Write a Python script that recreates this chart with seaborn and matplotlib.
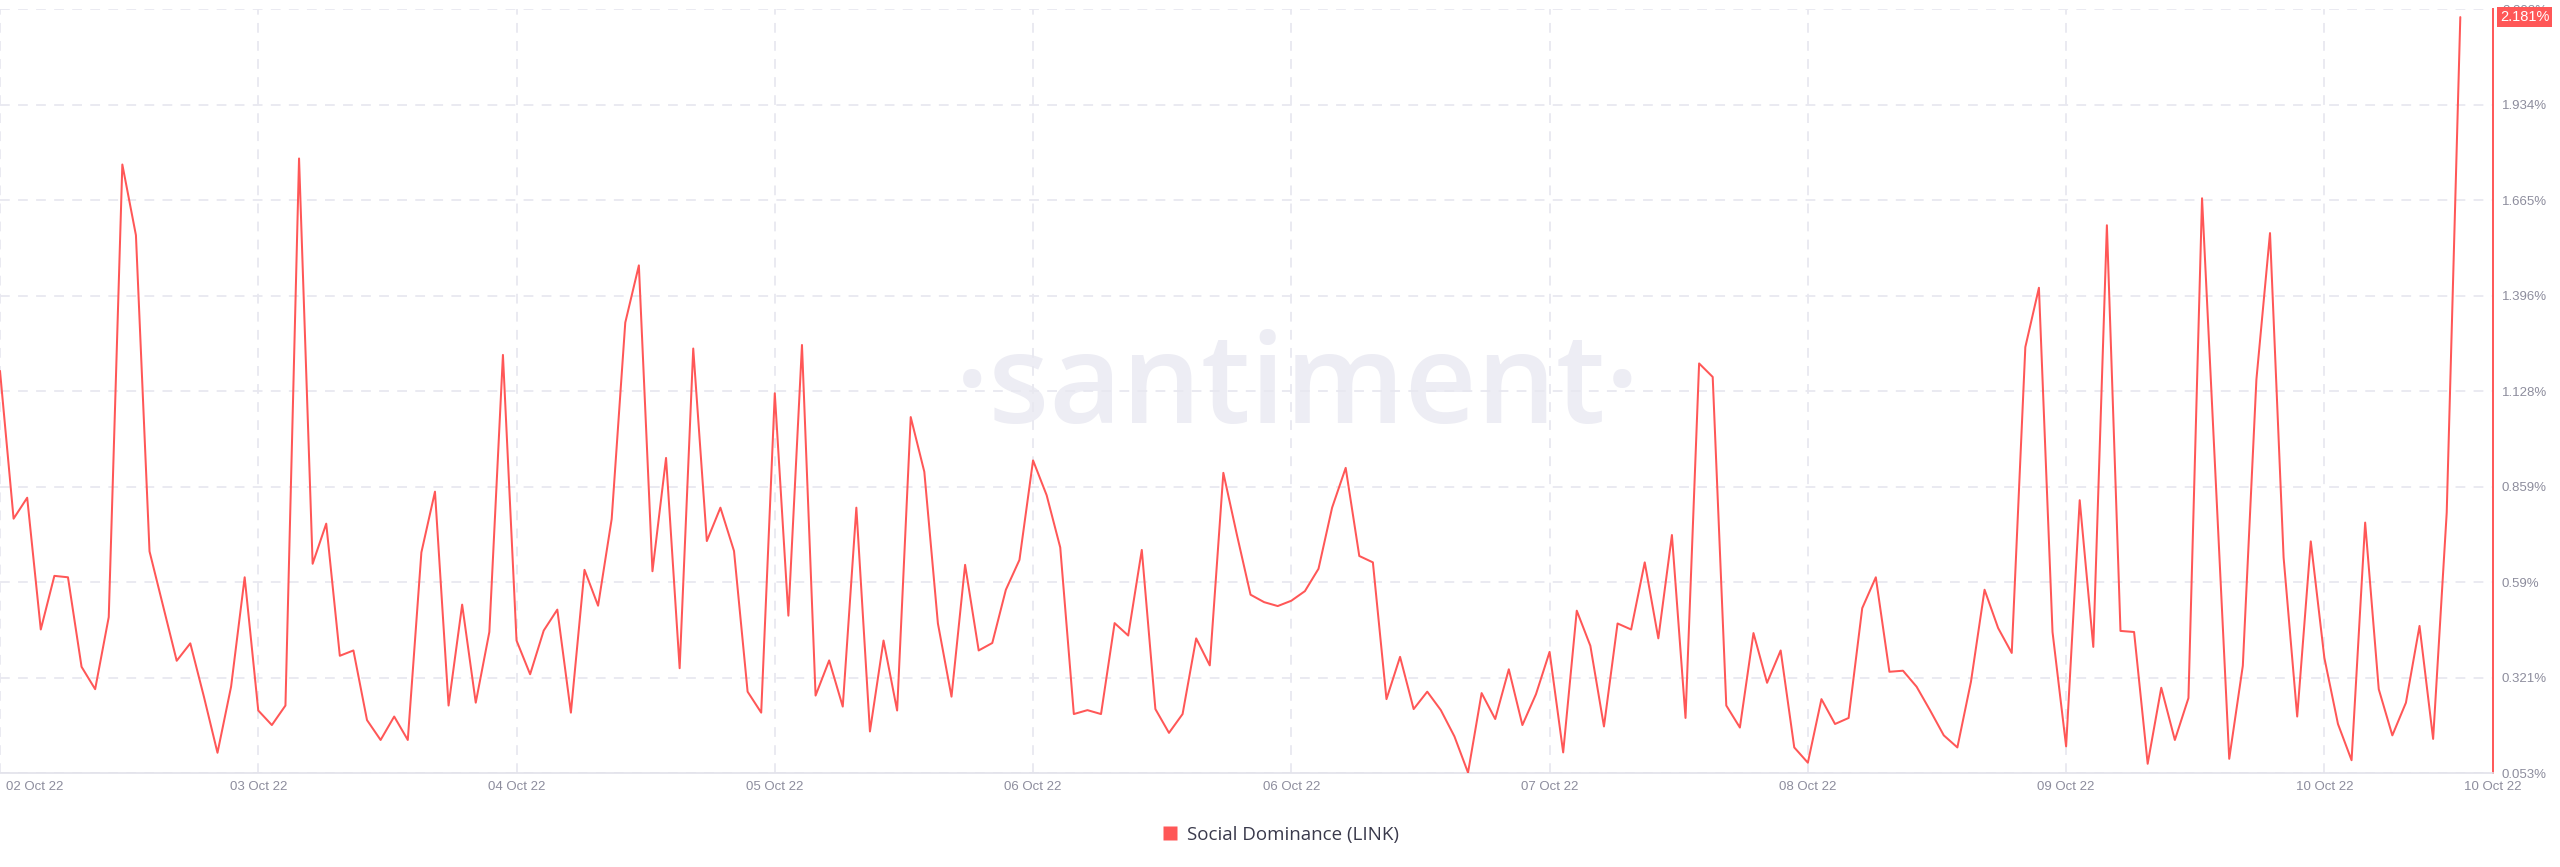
import numpy as np
import pandas as pd
import matplotlib
matplotlib.use("Agg")
import matplotlib.pyplot as plt
import matplotlib.transforms as mtransforms
import seaborn as sns
from matplotlib.lines import Line2D

# ---------------- data (hourly values, % social dominance) ----------------
SOCIAL_DOMINANCE = [
    1.185, 0.769, 0.828, 0.457, 0.608, 0.604, 0.352, 0.289, 0.492, 1.766,
    1.567, 0.677, 0.523, 0.369, 0.418, 0.268, 0.110, 0.296, 0.604, 0.229,
    0.188, 0.243, 1.783, 0.642, 0.755, 0.383, 0.398, 0.202, 0.146, 0.212,
    0.146, 0.674, 0.845, 0.243, 0.527, 0.251, 0.450, 1.230, 0.426, 0.331,
    0.454, 0.513, 0.223, 0.625, 0.524, 0.768, 1.321, 1.482, 0.621, 0.940,
    0.348, 1.248, 0.706, 0.800, 0.678, 0.282, 0.223, 1.122, 0.496, 1.258,
    0.271, 0.370, 0.240, 0.800, 0.170, 0.426, 0.229, 1.055, 0.901, 0.474,
    0.268, 0.639, 0.398, 0.419, 0.569, 0.653, 0.933, 0.835, 0.688, 0.219,
    0.230, 0.219, 0.475, 0.440, 0.681, 0.233, 0.166, 0.219, 0.432, 0.356,
    0.898, 0.723, 0.555, 0.534, 0.523, 0.538, 0.565, 0.628, 0.800, 0.912,
    0.664, 0.646, 0.261, 0.380, 0.233, 0.282, 0.230, 0.156, 0.054, 0.278,
    0.205, 0.345, 0.188, 0.275, 0.394, 0.111, 0.510, 0.411, 0.184, 0.474,
    0.457, 0.646, 0.432, 0.723, 0.208, 1.206, 1.168, 0.243, 0.181, 0.447,
    0.307, 0.398, 0.125, 0.082, 0.261, 0.191, 0.208, 0.517, 0.604, 0.338,
    0.341, 0.296, 0.229, 0.159, 0.125, 0.310, 0.569, 0.461, 0.391, 1.252,
    1.419, 0.450, 0.128, 0.821, 0.408, 1.595, 0.453, 0.450, 0.079, 0.293,
    0.146, 0.264, 1.671, 0.884, 0.093, 0.355, 1.161, 1.573, 0.660, 0.212,
    0.705, 0.377, 0.191, 0.089, 0.758, 0.289, 0.159, 0.251, 0.467, 0.149,
    0.786, 2.181,
]
SERIES_NAME = "Social Dominance (LINK)"
LAST_VALUE_LABEL = "2.181%"

X_TICK_HOURS = [0, 19, 38, 57, 76, 95, 114, 133, 152, 171, 183.4]
X_TICK_LABELS = ["02 Oct 22", "03 Oct 22", "04 Oct 22", "05 Oct 22", "06 Oct 22",
                 "06 Oct 22", "07 Oct 22", "08 Oct 22", "09 Oct 22", "10 Oct 22",
                 "10 Oct 22"]
Y_TICKS = [0.053, 0.321, 0.59, 0.859, 1.128, 1.396, 1.665, 1.934, 2.203]
Y_TICK_LABELS = ["0.053%", "0.321%", "0.59%", "0.859%", "1.128%", "1.396%",
                 "1.665%", "1.934%", "2.203%"]

# ---------------- style ----------------
RED = "#ff5757"
GRID = "#e8e8f0"
TICK_COLOR = "#8d8d9d"

sns.set_theme(style="white")
plt.rcParams["font.family"] = ["Liberation Sans", "DejaVu Sans"]

fig = plt.figure(figsize=(25.6, 8.67), dpi=100)
ax = fig.add_axes([0.0, 0.1084, 0.9738, 0.8809])

df = pd.DataFrame({"hour": np.arange(len(SOCIAL_DOMINANCE)),
                   "value": SOCIAL_DOMINANCE})

# watermark
ax.text(95.5, 1.038, "·santiment·", fontsize=90, family=["Open Sans", "DejaVu Sans"],
        fontweight="semibold", color="#ededf4", ha="center", va="baseline",
        zorder=0.5)

sns.lineplot(data=df, x="hour", y="value", ax=ax, color=RED, linewidth=1.45,
             legend=False, zorder=4)

ax.set_xlim(0, X_TICK_HOURS[-1])
ax.set_ylim(Y_TICKS[0], Y_TICKS[-1])
ax.yaxis.tick_right()
ax.set_yticks(Y_TICKS, Y_TICK_LABELS)
ax.set_xticks(X_TICK_HOURS, X_TICK_LABELS)
ax.set_xlabel("")
ax.set_ylabel("")
ax.tick_params(axis="both", length=0, labelsize=9.5, labelcolor=TICK_COLOR)
ax.tick_params(axis="y", pad=6.5)
ax.tick_params(axis="x", pad=6)
first = ax.get_xticklabels()[0]
first.set_ha("left")
first.set_transform(first.get_transform() +
                    mtransforms.ScaledTranslation(6 / 100, 0, fig.dpi_scale_trans))

ax.grid(True, color=GRID, linestyle=(0, (5.4, 4.6)), linewidth=1.3, zorder=0)
ax.set_axisbelow(True)

for s in ("left", "top"):
    ax.spines[s].set_visible(False)
ax.spines["right"].set_color(RED)
ax.spines["right"].set_linewidth(1.4)
ax.spines["bottom"].set_color("#e2e2ea")
ax.spines["bottom"].set_linewidth(1.2)

# last value tag (covers the top tick label as in the original)
ax.annotate(LAST_VALUE_LABEL, xy=(1.0, SOCIAL_DOMINANCE[-1]),
            xycoords=ax.get_yaxis_transform(), xytext=(5, 0),
            textcoords="offset points", ha="left", va="center",
            color="white", fontsize=10.5,
            bbox=dict(boxstyle="square,pad=0.2", fc=RED, ec="none"),
            annotation_clip=False, zorder=10)

# legend
handle = Line2D([], [], marker="s", linestyle="none", markersize=9.5,
                markerfacecolor=RED, markeredgecolor="none")
fig.legend(handles=[handle], labels=[SERIES_NAME], loc="center",
           bbox_to_anchor=(0.5, 0.037), frameon=False,
           prop={"family": ["Open Sans", "DejaVu Sans"], "size": 13.5},
           handletextpad=0.4, handlelength=1.0, labelcolor="#3a3a4c")

fig.savefig("out.png", dpi=100)
